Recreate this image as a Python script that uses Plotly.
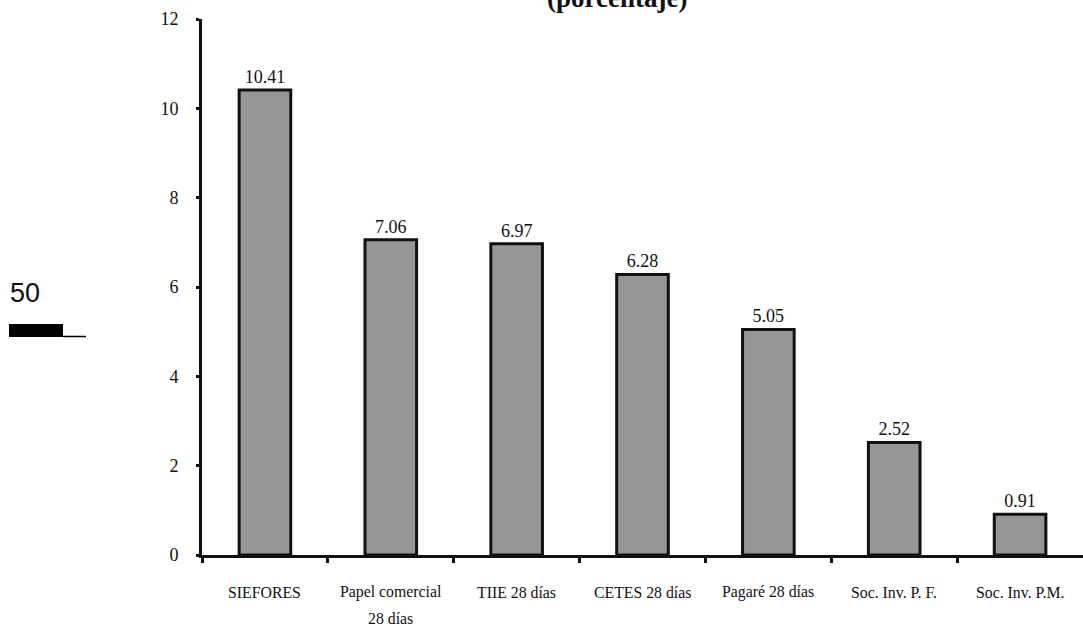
import plotly.graph_objects as go

# Rendimiento por instrumento (porcentaje)
categorias = ["SIEFORES", "Papel comercial<br>28 días", "TIIE 28 días", "CETES 28 días",
              "Pagaré 28 días", "Soc. Inv. P. F.", "Soc. Inv. P.M."]
valores = [10.41, 7.06, 6.97, 6.28, 5.05, 2.52, 0.91]
etiquetas = ["10.41", "7.06", "6.97", "6.28", "5.05", "2.52", "0.91"]
y_ticks = [0, 2, 4, 6, 8, 10, 12]

W, H = 1083, 627
L, R, T, B = 202, 0, 19, 72
PW, PH = W - L - R, H - T - B

def px_x(p):
    return (p - L) / PW

def px_y(p):
    return (H - B - p) / PH

serif = "Liberation Serif, Times New Roman, serif"
pos = list(range(len(categorias)))

fig = go.Figure()
fig.add_trace(go.Bar(
    x=pos, y=valores, width=0.41,
    marker=dict(color="#969696", line=dict(color="#111111", width=3)),
    text=etiquetas, textposition="outside", cliponaxis=False,
    textfont=dict(family=serif, size=18, color="#111111"),
))

annotations = []
for i, c in enumerate(categorias):
    lineas = c.split("<br>")
    for k, ln in enumerate(lineas):
        annotations.append(dict(
            x=i, xref="x", y=px_y(592 + 26 * k), yref="paper",
            text=ln, showarrow=False, xanchor="center", yanchor="middle",
            font=dict(family=serif, size=15.8, color="#111111"),
        ))

# Title (top partly outside the page)
annotations.append(dict(
    x=px_x(617), xref="paper", y=px_y(-2), yref="paper",
    text="<b>(porcentaje)</b>", showarrow=False, xanchor="center", yanchor="middle",
    font=dict(family=serif, size=27, color="#111111"),
))
# Scale mark on the left
annotations.append(dict(
    x=px_x(8), xref="paper", y=px_y(293), yref="paper",
    text="50", showarrow=False, xanchor="left", yanchor="middle",
    font=dict(family="Liberation Sans, Arial, sans-serif", size=27, color="#111111"),
))

shapes = [
    dict(type="rect", xref="paper", yref="paper",
         x0=px_x(9), x1=px_x(63), y0=px_y(324), y1=px_y(337),
         fillcolor="#000000", line=dict(width=0)),
    dict(type="line", xref="paper", yref="paper",
         x0=px_x(63), x1=px_x(86), y0=px_y(336.5), y1=px_y(336.5),
         line=dict(color="#000000", width=1.5)),
]

fig.update_layout(
    width=W, height=H,
    margin=dict(l=L, r=R, t=T, b=B, pad=0),
    paper_bgcolor="white", plot_bgcolor="white",
    showlegend=False,
    annotations=annotations, shapes=shapes,
    xaxis=dict(
        range=[-0.5, len(categorias) - 0.5],
        tickvals=[i - 0.5 for i in range(len(categorias))],
        showticklabels=False, ticks="outside", ticklen=5, tickwidth=3,
        tickcolor="#111111", showline=True, linecolor="#111111", linewidth=3,
        showgrid=False, zeroline=False, fixedrange=True,
    ),
    yaxis=dict(
        range=[0, 12], tickvals=y_ticks,
        ticks="outside", ticklen=3, tickwidth=3, tickcolor="#111111",
        showline=True, linecolor="#111111", linewidth=3,
        showgrid=False, zeroline=False, ticklabelstandoff=14,
        tickfont=dict(family=serif, size=18, color="#111111"),
    ),
)

fig.write_html("out.html")
